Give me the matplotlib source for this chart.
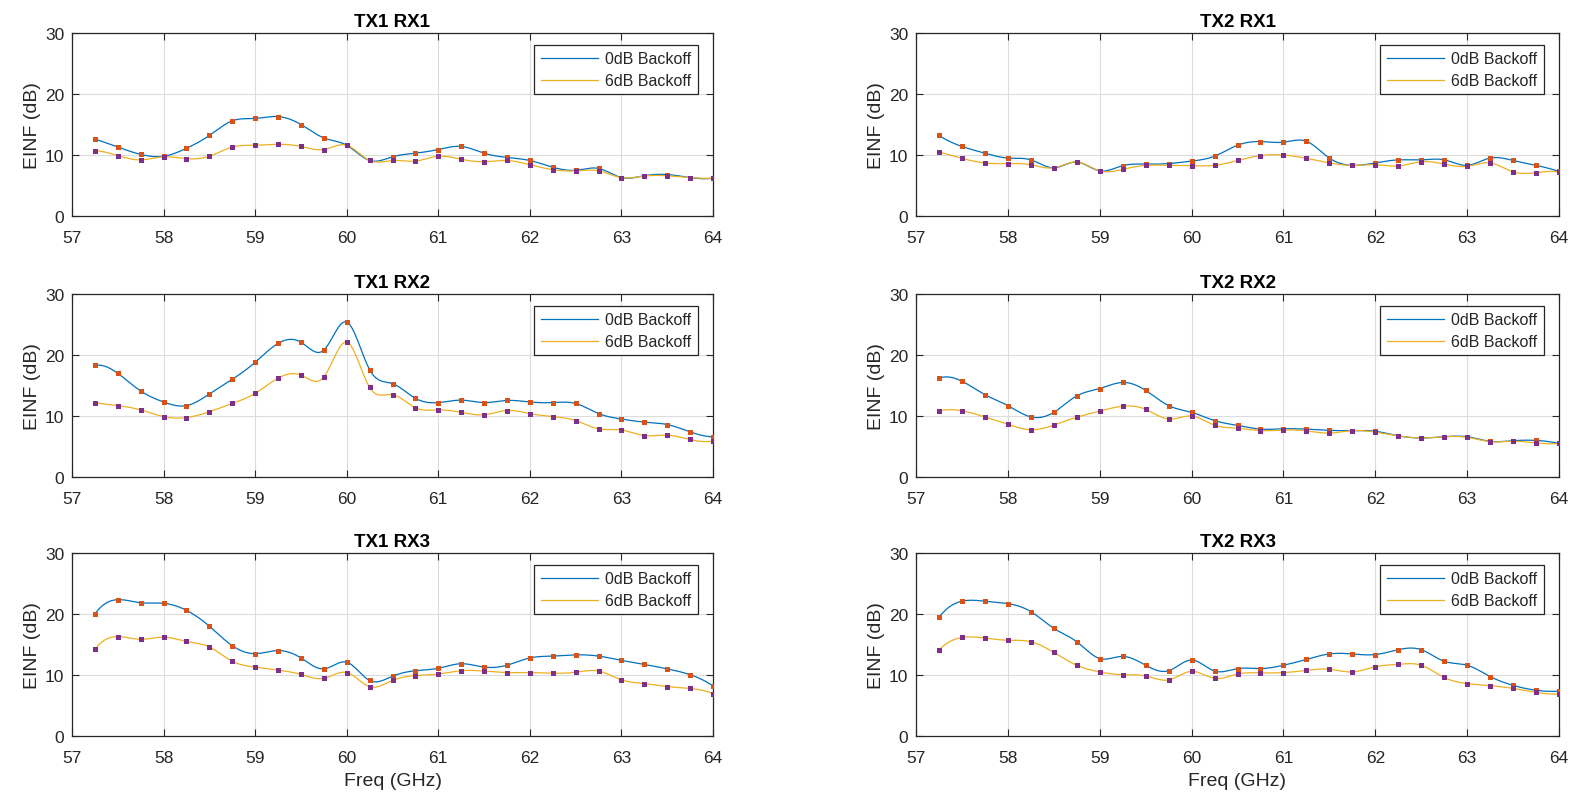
import numpy as np
import matplotlib
matplotlib.use("Agg")
import matplotlib.pyplot as plt

plt.rcParams['font.family'] = ['Liberation Sans', 'DejaVu Sans']

freq = [57.25, 57.5, 57.75, 58.0, 58.25, 58.5, 58.75, 59.0, 59.25, 59.5, 59.75,
        60.0, 60.25, 60.5, 60.75, 61.0, 61.25, 61.5, 61.75, 62.0, 62.25, 62.5,
        62.75, 63.0, 63.25, 63.5, 63.75, 64.0]

titles = ["TX1 RX1", "TX2 RX1", "TX1 RX2", "TX2 RX2", "TX1 RX3", "TX2 RX3"]
series_labels = ["0dB Backoff", "6dB Backoff"]

tx1rx1_0db = [12.6, 11.3, 10.1, 9.8, 11.1, 13.2, 15.6, 16.0, 16.3, 15.0, 12.8,
              11.6, 9.1, 9.7, 10.3, 10.9, 11.4, 10.3, 9.6, 9.1, 8.0, 7.5,
              7.8, 6.3, 6.6, 6.8, 6.3, 6.2]
tx1rx1_6db = [10.7, 9.9, 9.2, 9.7, 9.4, 9.8, 11.3, 11.6, 11.75, 11.4, 10.9,
              11.6, 9.1, 9.1, 9.0, 9.8, 9.3, 8.9, 9.1, 8.4, 7.6, 7.4,
              7.4, 6.3, 6.55, 6.6, 6.3, 6.2]

tx2rx1_0db = [13.2, 11.4, 10.3, 9.5, 9.2, 7.9, 8.85, 7.4, 8.25, 8.5, 8.6,
              9.0, 9.8, 11.6, 12.2, 12.1, 12.25, 9.5, 8.3, 8.7, 9.2, 9.2,
              9.2, 8.3, 9.5, 9.1, 8.3, 7.3]
tx2rx1_6db = [10.5, 9.45, 8.7, 8.6, 8.4, 7.9, 8.85, 7.4, 7.65, 8.3, 8.3,
              8.25, 8.3, 9.1, 9.9, 10.0, 9.45, 8.7, 8.3, 8.4, 8.2, 8.9,
              8.5, 8.15, 8.7, 7.25, 7.1, 7.2]

tx1rx2_0db = [18.3, 17.0, 14.1, 12.3, 11.7, 13.6, 16.0, 18.8, 21.9, 22.1, 20.8,
              25.4, 17.6, 15.3, 12.9, 12.2, 12.6, 12.2, 12.55, 12.3, 12.2, 12.05,
              10.4, 9.5, 9.0, 8.6, 7.4, 6.6]
tx1rx2_6db = [12.2, 11.7, 11.0, 9.9, 9.75, 10.7, 12.05, 13.7, 16.2, 16.7, 16.4,
              22.1, 14.7, 13.5, 11.35, 11.0, 10.6, 10.2, 10.9, 10.4, 9.9, 9.25,
              7.9, 7.7, 6.8, 6.85, 6.15, 5.9]

tx2rx2_0db = [16.2, 15.7, 13.5, 11.7, 9.85, 10.6, 13.3, 14.5, 15.5, 14.2, 11.7,
              10.6, 9.25, 8.45, 7.85, 7.9, 7.85, 7.65, 7.6, 7.5, 6.75, 6.4,
              6.6, 6.6, 5.85, 5.95, 6.0, 5.5]
tx2rx2_6db = [10.85, 10.85, 9.85, 8.65, 7.75, 8.5, 9.8, 10.8, 11.6, 11.1, 9.5,
              10.0, 8.5, 8.0, 7.6, 7.7, 7.55, 7.2, 7.6, 7.35, 6.75, 6.4,
              6.6, 6.5, 5.8, 5.85, 5.6, 5.5]

tx1rx3_0db = [20.0, 22.35, 21.85, 21.75, 20.6, 18.0, 14.8, 13.5, 14.0, 12.8, 11.0,
              12.1, 9.1, 9.8, 10.7, 11.1, 11.85, 11.3, 11.6, 12.8, 13.1, 13.3,
              13.1, 12.4, 11.75, 11.0, 10.05, 8.2]
tx1rx3_6db = [14.2, 16.3, 15.85, 16.2, 15.5, 14.6, 12.25, 11.3, 10.8, 10.1, 9.45,
              10.4, 8.1, 9.1, 9.9, 10.15, 10.7, 10.65, 10.4, 10.4, 10.3, 10.45,
              10.65, 9.2, 8.6, 8.1, 7.8, 6.95]

tx2rx3_0db = [19.45, 22.1, 22.1, 21.7, 20.4, 17.65, 15.45, 12.7, 13.05, 11.6, 10.7,
              12.45, 10.65, 11.05, 11.05, 11.6, 12.55, 13.45, 13.45, 13.35, 14.15, 14.15,
              12.25, 11.6, 9.75, 8.3, 7.5, 7.35]
tx2rx3_6db = [14.1, 16.15, 16.05, 15.7, 15.45, 13.7, 11.6, 10.5, 10.05, 9.85, 9.2,
              10.6, 9.45, 10.15, 10.35, 10.4, 10.75, 10.95, 10.5, 11.35, 11.75, 11.6,
              9.6, 8.6, 8.25, 7.8, 7.15, 6.9]

panels = [
    (tx1rx1_0db, tx1rx1_6db), (tx2rx1_0db, tx2rx1_6db),
    (tx1rx2_0db, tx1rx2_6db), (tx2rx2_0db, tx2rx2_6db),
    (tx1rx3_0db, tx1rx3_6db), (tx2rx3_0db, tx2rx3_6db),
]

xticks = [57, 58, 59, 60, 61, 62, 63, 64]
yticks = [0, 10, 20, 30]


def spline_curve(x, y, n_per=20):
    """Not-a-knot cubic spline through the data points (drawing aid)."""
    x = np.asarray(x, float)
    y = np.asarray(y, float)
    n = len(x)
    h = np.diff(x)
    A = np.zeros((n, n))
    b = np.zeros(n)
    A[0, 0] = h[1]
    A[0, 1] = -(h[0] + h[1])
    A[0, 2] = h[0]
    A[-1, -3] = h[-1]
    A[-1, -2] = -(h[-2] + h[-1])
    A[-1, -1] = h[-2]
    for i in range(1, n - 1):
        A[i, i - 1] = h[i - 1]
        A[i, i] = 2 * (h[i - 1] + h[i])
        A[i, i + 1] = h[i]
        b[i] = 6 * ((y[i + 1] - y[i]) / h[i] - (y[i] - y[i - 1]) / h[i - 1])
    M = np.linalg.solve(A, b)
    xs, ys = [], []
    for i in range(n - 1):
        t = np.linspace(x[i], x[i + 1], n_per, endpoint=(i == n - 2))
        a = x[i + 1] - t
        c = t - x[i]
        s = (M[i] * a ** 3 + M[i + 1] * c ** 3) / (6 * h[i]) \
            + (y[i] / h[i] - M[i] * h[i] / 6) * a \
            + (y[i + 1] / h[i] - M[i + 1] * h[i] / 6) * c
        xs.append(t)
        ys.append(s)
    return np.concatenate(xs), np.concatenate(ys)


W, H = 1585, 803
fig = plt.figure(figsize=(W / 100, H / 100), dpi=100)

lefts = [72, 916]
widths = [641, 643]
tops = [34, 295, 554]
ah = 183

line_colors = ["#0072BD", "#EDB120"]
marker_colors = ["#D95319", "#7E2F8E"]
txt_col = "#262626"

for k, (title, data) in enumerate(zip(titles, panels)):
    r, c = divmod(k, 2)
    ax = fig.add_axes([lefts[c] / W, 1 - (tops[r] + ah) / H, widths[c] / W, ah / H])
    for j, yv in enumerate(data):
        xs, ys = spline_curve(freq, yv)
        ax.plot(xs, ys, color=line_colors[j], lw=0.9, label=series_labels[j], zorder=3)
    for j, yv in enumerate(data):
        ax.plot(freq, yv, ls="none", marker="s", ms=3.6, mew=0,
                color=marker_colors[j], zorder=4)
    ax.set_xlim(57, 64)
    ax.set_ylim(0, 30)
    ax.set_xticks(xticks)
    ax.set_yticks(yticks)
    ax.grid(True, color="#dcdcdc", lw=0.8)
    ax.set_axisbelow(True)
    ax.tick_params(direction="in", top=True, right=True, labelsize=12.5,
                   colors=txt_col, length=5, width=0.8)
    ax.tick_params(axis="x", pad=10)
    ax.tick_params(axis="y", pad=5.5)
    for sp in ax.spines.values():
        sp.set_color(txt_col)
        sp.set_linewidth(0.9)
    ax.set_title(title, fontsize=13.5, fontweight="bold", color="black", pad=5)
    ax.set_ylabel("EINF (dB)", fontsize=14, color=txt_col, labelpad=3)
    if r == 2:
        ax.set_xlabel("Freq (GHz)", fontsize=14, color=txt_col, labelpad=5)
    leg = ax.legend(loc="upper right", fontsize=11.5, frameon=True, fancybox=False,
                    edgecolor=txt_col, framealpha=1, borderpad=0.4,
                    borderaxespad=0.0,
                    handlelength=3.6, handletextpad=0.45, labelspacing=0.42,
                    bbox_to_anchor=(1 - 15 / widths[c], 1 - 12 / ah))
    leg.get_frame().set_linewidth(0.9)
    for t in leg.get_texts():
        t.set_color(txt_col)

fig.savefig("out.png", dpi=100)
